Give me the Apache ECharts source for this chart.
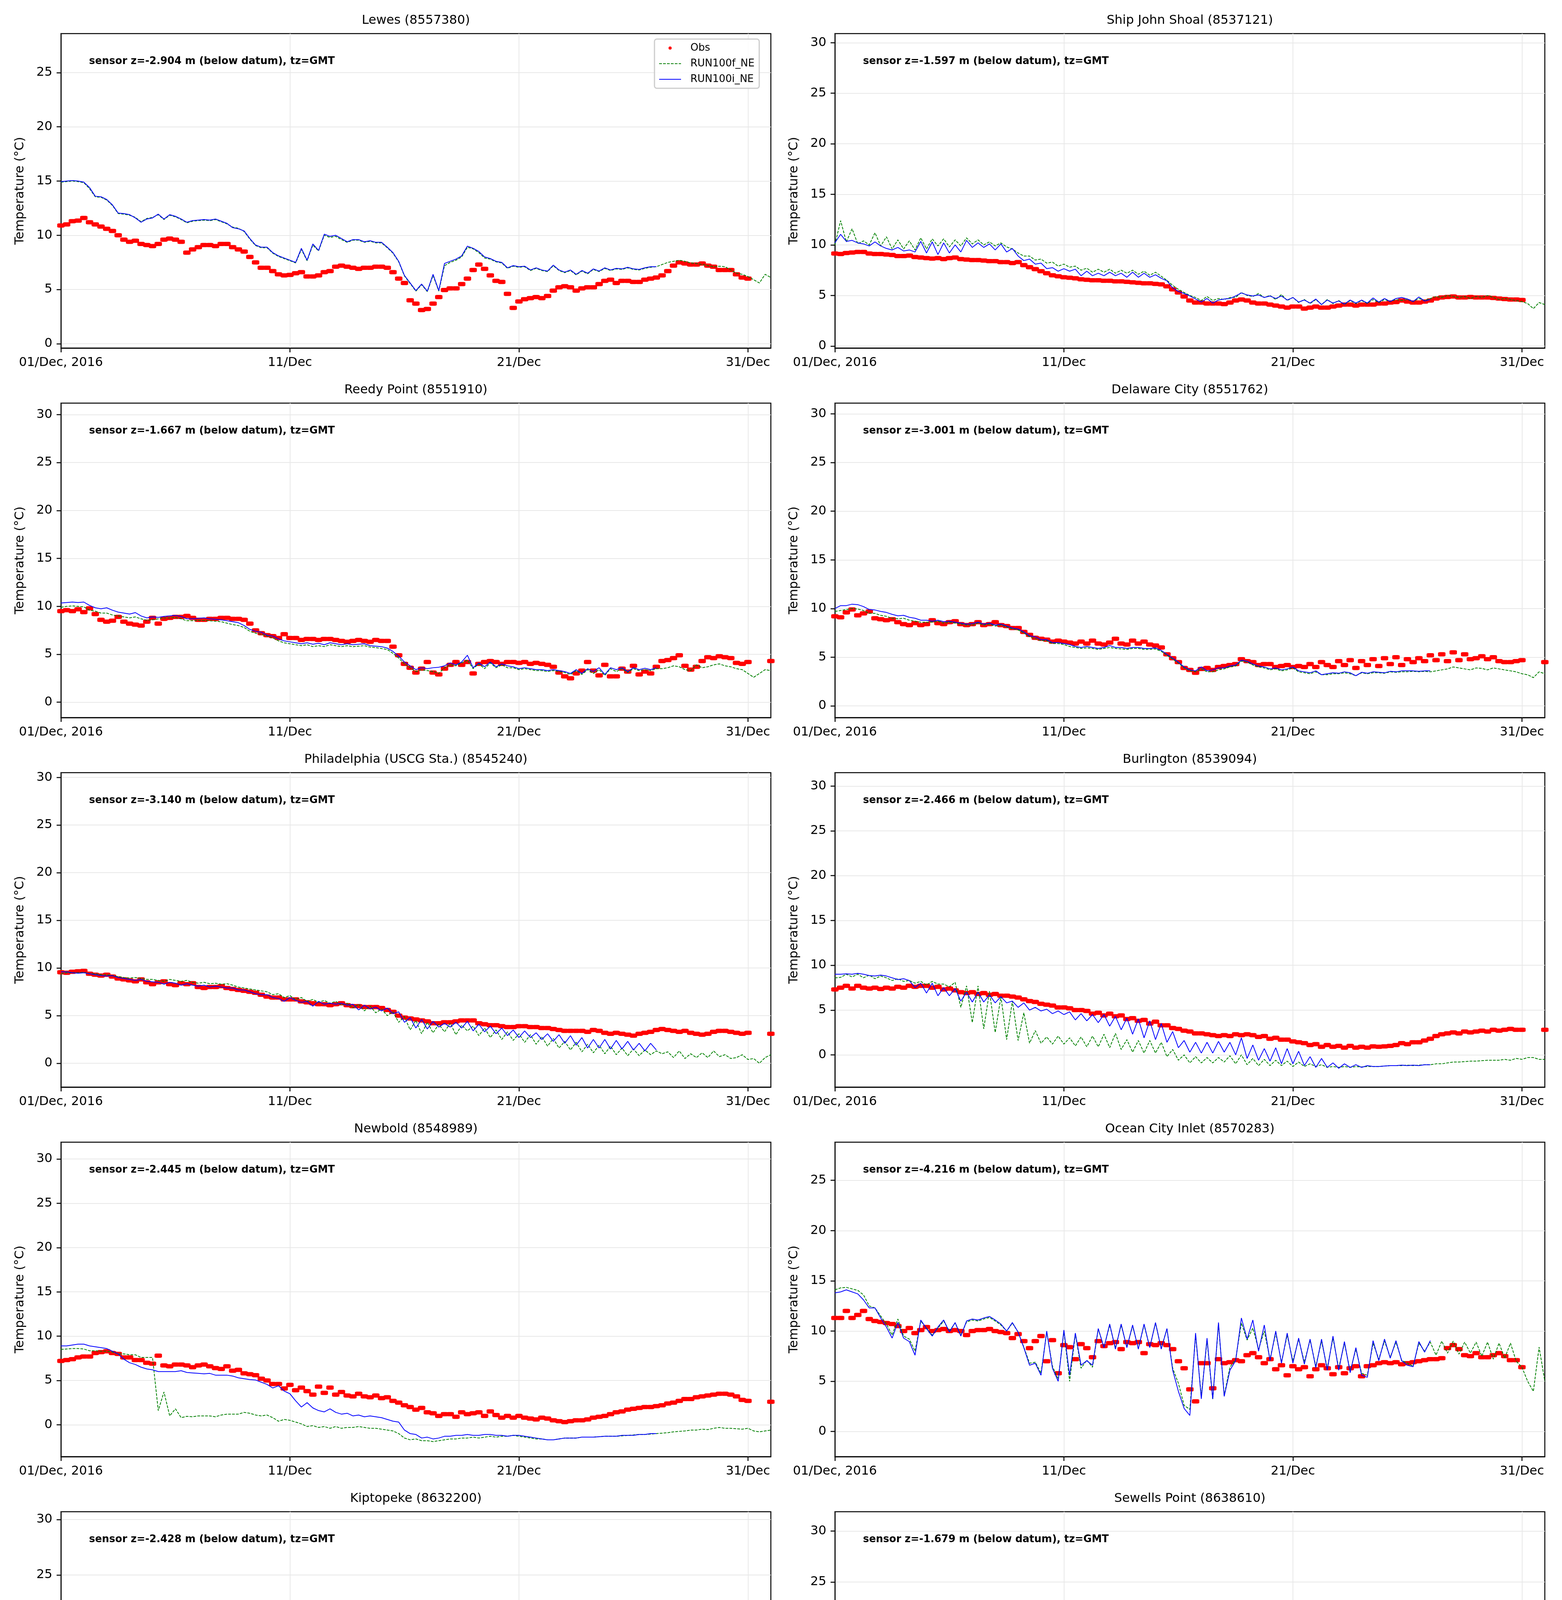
<!DOCTYPE html>
<html>
<head>
<meta charset="utf-8">
<title>Water temperature, Dec 2016</title>
<script src="https://cdn.jsdelivr.net/npm/echarts@6/dist/echarts.min.js"></script>
<style>
  html, body { margin: 0; padding: 0; background: #fff; }
  #chart { width: 4000px; height: 5000px; }
</style>
</head>
<body>
<div id="chart"></div>
<script>
// sample spacing of every series below: 6 hours, starting 01/Dec 00:00 (x is in days)
var STEP = 0.25;

var xTickDays = [0, 10, 20, 30];
var xTickLabels = ['01/Dec, 2016', '11/Dec', '21/Dec', '31/Dec'];
var ticks0to25 = [0, 5, 10, 15, 20, 25];
var ticks0to30 = [0, 5, 10, 15, 20, 25, 30];
var ticks5to30 = [5, 10, 15, 20, 25, 30];

var stationNames = ['Lewes (8557380)', 'Ship John Shoal (8537121)', 'Reedy Point (8551910)', 'Delaware City (8551762)',
    'Philadelphia (USCG Sta.) (8545240)', 'Burlington (8539094)', 'Newbold (8548989)', 'Ocean City Inlet (8570283)',
    'Kiptopeke (8632200)', 'Sewells Point (8638610)'];
var sensorDepths = ['-2.904', '-1.597', '-1.667', '-3.001', '-3.140', '-2.466', '-2.445', '-4.216', '-2.428', '-1.679'];
var yMins = [-0.4, -0.2, -1.6, -1.2, -2.5, -3.6, -3.6, -2.5, 2.4, 1.0];
var yMaxs = [28.6, 30.9, 31.2, 31.1, 30.5, 31.5, 31.9, 28.8, 30.7, 31.9];

// ---- Lewes
var lewesObs = [
    10.9, 11.0, 11.3, 11.35, 11.6, 11.2, 11.0, 10.8,
    10.6, 10.4, 10.0, 9.6, 9.4, 9.5, 9.2, 9.1,
    9.0, 9.2, 9.6, 9.7, 9.6, 9.4, 8.4, 8.7,
    8.9, 9.1, 9.1, 9.0, 9.2, 9.2, 8.9, 8.7,
    8.5, 8.0, 7.5, 7.0, 7.0, 6.7, 6.4, 6.3,
    6.35, 6.5, 6.6, 6.2, 6.2, 6.3, 6.6, 6.7,
    7.1, 7.2, 7.1, 7.0, 6.9, 7.0, 7.0, 7.1,
    7.1, 7.0, 6.6, 6.0, 5.6, 4.0, 3.7, 3.1,
    3.2, 3.7, 4.3, 4.95, 5.1, 5.1, 5.5, 6.0,
    6.8, 7.3, 6.9, 6.3, 5.8, 5.7, 4.6, 3.3,
    3.9, 4.1, 4.2, 4.3, 4.2, 4.4, 4.9, 5.2,
    5.3, 5.2, 4.9, 5.1, 5.2, 5.2, 5.5, 5.8,
    5.9, 5.6, 5.8, 5.8, 5.7, 5.7, 5.9, 6.0,
    6.1, 6.3, 6.7, 7.2, 7.5, 7.4, 7.3, 7.3,
    7.4, 7.2, 7.1, 6.8, 6.8, 6.8, 6.4, 6.1,
    6.0
];
var lewesRunF = [
    14.9, 14.95, 15.0, 14.95, 14.85, 14.3, 13.55, 13.5,
    13.25, 12.75, 12.0, 11.95, 11.85, 11.65, 11.25, 11.55,
    11.65, 11.9, 11.45, 11.85, 11.7, 11.45, 11.15, 11.3,
    11.35, 11.4, 11.35, 11.45, 11.25, 11.05, 10.75, 10.65,
    10.35, 9.65, 9.05, 8.85, 8.85, 8.35, 8.05, 7.85,
    7.65, 7.45, 8.7, 7.65, 9.1, 8.55, 10.0, 9.8,
    9.9, 9.6, 9.35, 9.55, 9.55, 9.35, 9.45, 9.3,
    9.3, 8.85, 8.35, 7.55, 6.25, 5.55, 4.85, 5.45,
    4.8, 6.3, 4.85, 7.2, 7.5, 7.7, 8.0, 8.9,
    8.75, 8.4, 7.9, 7.8, 7.55, 7.45, 6.95, 7.15,
    7.05, 7.1, 6.75, 6.95, 6.75, 6.65, 7.2, 6.75,
    6.55, 6.75, 6.35, 6.7, 6.45, 6.85, 6.65, 6.95,
    6.75, 6.9, 6.85, 7.0, 6.85, 6.8, 6.95, 7.05,
    7.1, 7.3, 7.5, 7.6, 7.7, 7.6, 7.45, 7.4,
    7.3, 7.2, 7.1, 7.15, 7.1, 6.8, 6.5, 6.4,
    6.2, 5.9, 5.6, 6.4, 6.1
];
var lewesRunI = [
    14.95, 15.0, 15.05, 15.0, 14.9, 14.4, 13.6, 13.55,
    13.3, 12.8, 12.05, 12.0, 11.9, 11.6, 11.2, 11.5,
    11.6, 11.95, 11.5, 11.9, 11.75, 11.5, 11.2, 11.35,
    11.4, 11.45, 11.4, 11.5, 11.3, 11.1, 10.7, 10.6,
    10.4, 9.7, 9.1, 8.9, 8.9, 8.4, 8.1, 7.9,
    7.7, 7.5, 8.8, 7.7, 9.2, 8.6, 10.1, 9.9,
    10.0, 9.7, 9.4, 9.6, 9.6, 9.4, 9.5, 9.35,
    9.35, 8.9, 8.4, 7.6, 6.3, 5.6, 4.9, 5.5,
    4.85, 6.4, 4.9, 7.4, 7.6, 7.8, 8.1, 9.0,
    8.8, 8.5, 8.0, 7.85, 7.6, 7.5, 7.0, 7.2,
    7.1, 7.15, 6.8, 7.0, 6.8, 6.7, 7.25, 6.8,
    6.6, 6.8, 6.4, 6.75, 6.5, 6.9, 6.7, 7.0,
    6.8, 6.95, 6.9, 7.05, 6.9, 6.85, 7.0, 7.1,
    7.1
];

// ---- Ship John Shoal
var shipJohnObs = [
    9.15, 9.1, 9.2, 9.25, 9.3, 9.3, 9.15, 9.1,
    9.1, 9.05, 9.0, 8.9, 8.9, 8.95, 8.8, 8.75,
    8.7, 8.65, 8.7, 8.6, 8.7, 8.75, 8.6, 8.55,
    8.5, 8.5, 8.45, 8.4, 8.4, 8.3, 8.3, 8.2,
    8.3, 8.0, 7.8, 7.6, 7.4, 7.2, 7.0, 6.9,
    6.8, 6.75, 6.7, 6.6, 6.55, 6.5, 6.5, 6.45,
    6.45, 6.4, 6.4, 6.35, 6.3, 6.25, 6.2, 6.2,
    6.15, 6.1, 5.9, 5.6, 5.3, 4.9, 4.5, 4.3,
    4.3, 4.2, 4.2, 4.2, 4.15, 4.3, 4.5, 4.6,
    4.5, 4.3, 4.2, 4.2, 4.1, 4.0, 3.9, 3.8,
    3.9, 3.9, 3.7, 3.8, 3.9, 3.8, 3.8, 3.9,
    4.0, 4.1, 4.1, 4.0, 4.1, 4.1, 4.1, 4.2,
    4.2, 4.3, 4.35, 4.5, 4.4, 4.3, 4.3, 4.4,
    4.5, 4.7, 4.8, 4.85, 4.9, 4.8, 4.8, 4.85,
    4.8, 4.8, 4.8, 4.75, 4.7, 4.65, 4.6, 4.6,
    4.55
];
var shipJohnRunF = [
    10.0, 12.4, 10.3, 11.6, 10.1, 10.4, 10.0, 11.2,
    9.9, 10.8, 9.6, 10.5, 9.6, 10.4, 9.5, 10.7,
    9.6, 10.6, 9.9, 10.6, 9.8, 10.5, 9.9, 10.7,
    10.1, 10.5, 10.0, 10.3, 9.9, 10.2, 9.8, 9.6,
    9.2, 8.9, 8.9, 8.5, 8.6, 8.2, 8.3, 7.9,
    8.1, 7.8, 7.9, 7.5, 7.7, 7.3, 7.6, 7.3,
    7.6, 7.2, 7.5, 7.2, 7.5, 7.1, 7.4, 7.0,
    7.3, 6.9, 6.5, 6.0, 5.6, 5.3, 5.0, 4.8,
    4.5, 4.9, 4.5, 4.7, 4.6, 4.8, 4.8, 5.3,
    5.0, 4.9, 5.2, 4.8, 5.0, 4.6, 5.1, 4.5,
    4.8, 4.3, 4.6, 4.2, 4.6, 4.1, 4.6, 4.2,
    4.5, 4.1, 4.5, 4.2, 4.5, 4.2, 4.6, 4.3,
    4.6, 4.4, 4.6, 4.5, 4.6, 4.4, 4.7, 4.5,
    4.7, 4.9, 4.8, 5.0, 4.9, 4.8, 4.9, 4.7,
    4.9, 4.8, 5.0, 4.8, 4.6, 4.7, 4.6, 4.5,
    4.4, 4.2, 3.7, 4.3, 4.1
];
var shipJohnRunI = [
    10.2, 11.05, 10.35, 10.45, 10.2, 10.1, 9.9, 10.3,
    9.9, 9.65, 9.5, 9.75, 9.4, 9.5, 9.3, 10.35,
    9.2, 10.3, 9.05, 10.2, 9.2, 10.0, 9.3, 10.45,
    9.75, 10.2, 9.75, 10.1, 9.5, 10.1, 9.3, 9.65,
    8.9, 8.45, 8.6, 8.1, 8.2, 7.65, 7.75, 7.4,
    7.65, 7.4, 7.6, 6.95, 7.4, 6.95, 7.2, 6.95,
    7.3, 6.95, 7.2, 6.8, 7.3, 6.8, 7.2, 6.8,
    7.05, 6.7, 6.45, 5.75, 5.4, 5.2, 4.95, 4.65,
    4.35, 4.7, 4.25, 4.55, 4.65, 4.7, 4.95, 5.25,
    5.05, 4.95, 5.05, 4.8, 4.95, 4.7, 4.95, 4.55,
    4.8, 4.35, 4.55, 4.25, 4.65, 4.1, 4.55, 4.25,
    4.45, 4.15, 4.55, 4.25, 4.55, 4.25, 4.75, 4.35,
    4.7, 4.4, 4.7, 4.8, 4.65, 4.4, 4.85, 4.45,
    4.6
];

// ---- Reedy Point
var reedyObs = [
    9.5, 9.6, 9.5, 9.7, 9.4, 9.8, 9.2, 8.6,
    8.4, 8.5, 8.9, 8.4, 8.2, 8.1, 8.0, 8.4,
    8.8, 8.2, 8.7, 8.8, 8.9, 8.9, 9.0, 8.8,
    8.6, 8.6, 8.7, 8.7, 8.8, 8.8, 8.7, 8.7,
    8.6, 8.2, 7.5, 7.2, 7.0, 6.9, 6.7, 7.1,
    6.7, 6.7, 6.5, 6.6, 6.6, 6.5, 6.6, 6.6,
    6.5, 6.4, 6.3, 6.4, 6.5, 6.4, 6.3, 6.5,
    6.4, 6.4, 5.8, 4.9, 4.0, 3.6, 3.1, 3.5,
    4.2, 3.1, 2.9, 3.5, 3.9, 4.2, 3.9, 4.2,
    3.0, 4.0, 4.2, 4.3, 4.2, 4.0, 4.2, 4.2,
    4.1, 4.2, 4.0, 4.1, 4.0, 3.9, 3.7, 3.1,
    2.7, 2.5, 3.0, 3.3, 4.2, 3.3, 2.8, 3.9,
    2.7, 2.7, 3.5, 3.2, 3.8, 2.9, 3.2, 3.0,
    3.7, 4.3, 4.4, 4.6, 4.9, 3.8, 3.4, 3.7,
    4.3, 4.7, 4.6, 4.8, 4.7, 4.6, 4.1, 4.0,
    4.2, null, null, null, 4.3
];
var reedyRunF = [
    9.9, 10.0, 10.05, 10.0, 9.95, 9.6, 9.5, 9.3,
    9.3, 9.1, 9.0, 8.9, 8.8, 8.9, 8.7, 8.55,
    8.6, 8.7, 8.8, 8.8, 8.85, 8.7, 8.5, 8.5,
    8.55, 8.55, 8.5, 8.45, 8.4, 8.25, 8.1, 8.0,
    7.8, 7.4, 7.2, 7.1, 6.9, 6.7, 6.4, 6.2,
    6.1, 6.0, 5.9, 6.0, 5.8, 5.9, 5.8, 6.0,
    5.9, 5.8, 5.9, 5.8, 5.85, 5.9, 5.75, 5.7,
    5.6, 5.5, 5.1, 4.6, 4.0, 3.6, 3.2, 3.4,
    3.3, 3.2, 3.0, 3.6, 3.9, 3.8, 4.1, 4.4,
    3.5, 4.0, 3.5, 4.1, 3.6, 3.9, 3.6, 3.6,
    3.4, 3.5, 3.4, 3.3, 3.3, 3.2, 3.3, 3.2,
    3.1, 2.9, 3.3, 2.9, 3.4, 3.0, 3.4, 2.8,
    3.5, 3.2, 3.5, 3.1, 3.5, 3.3, 3.4, 3.3,
    3.5, 3.5, 3.6, 3.8, 3.7, 3.4, 3.3, 3.9,
    3.6, 3.7, 3.9, 4.0, 3.8, 3.7, 3.5, 3.4,
    3.0, 2.6, 3.0, 3.4, 3.3
];
var reedyRunI = [
    10.35, 10.4, 10.45, 10.4, 10.45, 10.1, 9.85, 9.75,
    9.85, 9.6, 9.4, 9.3, 9.2, 9.35, 9.0, 8.8,
    8.9, 8.85, 8.95, 9.0, 9.05, 8.95, 8.7, 8.7,
    8.75, 8.8, 8.7, 8.65, 8.6, 8.5, 8.4, 8.3,
    8.0, 7.6, 7.4, 7.3, 7.0, 6.9, 6.6, 6.4,
    6.3, 6.2, 6.1, 6.2, 6.05, 6.15, 6.0, 6.2,
    6.1, 6.0, 6.1, 6.0, 6.05, 6.1, 5.9, 5.85,
    5.8, 5.65, 5.3, 4.8, 4.2, 3.8, 3.4, 3.6,
    3.5, 3.6, 3.65, 3.8, 4.1, 3.9, 4.2, 4.9,
    3.6, 4.1, 3.7, 4.2, 3.7, 4.0, 3.8, 3.7,
    3.5, 3.6, 3.5, 3.4, 3.4, 3.3, 3.4, 3.3,
    3.2, 3.0, 3.4, 3.0, 3.5, 3.2, 3.6, 2.9,
    3.6, 3.4, 3.6, 3.2, 3.6, 3.4, 3.55, 3.4,
    3.6
];

// ---- Delaware City
var delawareObs = [
    9.2, 9.1, 9.6, 9.9, 9.3, 9.5, 9.7, 9.0,
    8.9, 8.8, 8.9, 8.6, 8.4, 8.3, 8.5, 8.3,
    8.4, 8.8, 8.5, 8.4, 8.6, 8.7, 8.4, 8.3,
    8.4, 8.6, 8.3, 8.4, 8.6, 8.3, 8.2, 8.0,
    8.0, 7.6, 7.3, 7.0, 6.9, 6.8, 6.6, 6.7,
    6.6, 6.5, 6.4, 6.6, 6.4, 6.7, 6.4, 6.3,
    6.5, 6.9, 6.4, 6.3, 6.7, 6.4, 6.6, 6.3,
    6.2, 6.0, 5.3, 4.9, 4.5, 3.9, 3.7, 3.4,
    3.8, 3.9, 3.7, 4.0, 4.1, 4.2, 4.3, 4.8,
    4.6, 4.5, 4.2, 4.3, 4.3, 4.0, 4.1, 4.2,
    4.0, 4.1, 4.0, 4.3, 4.0, 4.5, 4.2, 4.0,
    4.6, 4.2, 4.7, 3.9, 4.6, 4.2, 4.8, 4.1,
    4.9, 4.3, 5.0, 4.2, 4.8, 4.5, 4.9, 4.6,
    5.2, 4.7, 5.3, 4.6, 5.5, 4.7, 5.3, 4.8,
    4.9, 5.1, 4.8, 5.0, 4.6, 4.5, 4.5, 4.6,
    4.7, null, null, null, 4.5
];
var delawareRunF = [
    9.7, 9.8, 9.9, 10.0, 9.95, 9.8, 9.5, 9.5,
    9.3, 9.2, 9.0, 8.95, 9.0, 8.8, 8.7, 8.6,
    8.6, 8.6, 8.7, 8.5, 8.6, 8.5, 8.4, 8.3,
    8.3, 8.5, 8.3, 8.4, 8.2, 8.3, 8.1, 7.9,
    7.8, 7.5, 7.1, 6.9, 6.7, 6.7, 6.4, 6.4,
    6.3, 6.1, 6.0, 5.9, 5.95, 5.9, 5.8, 5.9,
    6.0, 5.9, 5.85, 5.8, 5.9, 5.9, 5.8, 5.8,
    5.85, 5.6, 5.2, 4.8, 4.4, 3.9, 3.6, 3.5,
    3.8, 3.5, 3.5, 3.7, 3.8, 4.0, 4.1, 4.6,
    4.5, 4.2, 4.0, 3.9, 3.7, 3.8, 3.6, 3.7,
    3.9, 3.5, 3.4, 3.3, 3.5, 3.2, 3.2, 3.3,
    3.3, 3.4, 3.3, 3.1, 3.4, 3.3, 3.4, 3.4,
    3.35, 3.5, 3.45, 3.5, 3.5, 3.55, 3.5, 3.55,
    3.5, 3.6, 3.7, 3.8, 4.0, 3.9, 3.8, 3.7,
    3.9, 3.85, 3.7, 3.9, 3.8, 3.7, 3.6, 3.5,
    3.3, 3.2, 2.9, 3.5, 3.3
];
var delawareRunI = [
    10.0, 10.3, 10.3, 10.45, 10.4, 10.2, 9.9, 9.85,
    9.7, 9.6, 9.4, 9.25, 9.3, 9.1, 9.0, 8.8,
    8.8, 8.7, 8.8, 8.65, 8.7, 8.6, 8.5, 8.4,
    8.45, 8.6, 8.4, 8.5, 8.3, 8.4, 8.2, 8.0,
    7.9, 7.6, 7.2, 7.1, 6.8, 6.8, 6.5, 6.5,
    6.4, 6.3, 6.1, 6.0, 6.1, 6.0, 5.9, 6.0,
    6.2, 6.0, 6.0, 5.9, 6.0, 6.0, 5.9, 5.9,
    5.95, 5.7, 5.3, 4.9, 4.5, 4.0, 3.7, 3.6,
    4.0, 3.6, 3.7, 3.9, 3.9, 4.1, 4.2, 4.7,
    4.6, 4.3, 4.1, 4.0, 3.8, 3.9, 3.7, 3.8,
    4.0, 3.6, 3.5, 3.4, 3.6, 3.2, 3.3, 3.4,
    3.35, 3.5, 3.4, 3.1, 3.45, 3.35, 3.5, 3.45,
    3.4, 3.55, 3.5, 3.6, 3.6, 3.6, 3.55, 3.6,
    3.6
];

// ---- Philadelphia
var phillyObs = [
    9.55, 9.5, 9.6, 9.65, 9.7, 9.4, 9.3, 9.2,
    9.3, 9.1, 8.9, 8.8, 8.7, 8.6, 8.8, 8.5,
    8.3, 8.5, 8.6, 8.3, 8.2, 8.4, 8.3, 8.4,
    8.0, 7.9, 8.0, 8.0, 8.1, 7.9, 7.8, 7.7,
    7.6, 7.5, 7.4, 7.2, 7.0, 6.9, 6.9, 6.7,
    6.7, 6.7, 6.5, 6.4, 6.3, 6.2, 6.2, 6.1,
    6.2, 6.3, 6.1, 6.0, 6.0, 5.9, 5.9, 5.9,
    5.8, 5.6, 5.4, 5.0, 4.8, 4.7, 4.6, 4.5,
    4.4, 4.2, 4.2, 4.3, 4.3, 4.4, 4.5, 4.5,
    4.5, 4.2, 4.1, 4.0, 4.0, 3.9, 3.8, 3.8,
    3.9, 3.9, 3.8, 3.8, 3.7, 3.7, 3.6, 3.5,
    3.4, 3.4, 3.4, 3.4, 3.3, 3.5, 3.4, 3.2,
    3.1, 3.2, 3.1, 3.0, 2.9, 3.1, 3.2, 3.3,
    3.5, 3.6, 3.5, 3.4, 3.3, 3.4, 3.2, 3.1,
    3.0, 3.1, 3.3, 3.4, 3.4, 3.3, 3.2, 3.1,
    3.2, null, null, null, 3.1
];
var phillyRunF = [
    9.4, 9.5, 9.5, 9.5, 9.55, 9.4, 9.4, 9.3,
    9.3, 9.2, 9.1, 9.0, 8.95, 9.0, 8.9, 8.8,
    8.8, 8.7, 8.6, 8.8, 8.7, 8.6, 8.7, 8.5,
    8.4, 8.5, 8.35, 8.4, 8.3, 8.35, 8.2, 8.0,
    7.9, 7.8, 7.7, 7.6, 7.5, 7.2, 7.3, 6.9,
    7.1, 6.7, 6.9, 6.5, 6.7, 6.4, 6.6, 6.3,
    6.5, 6.1, 6.3, 5.8, 6.2, 5.5, 6.0, 5.3,
    5.7, 5.0, 5.4, 4.3, 4.9, 3.5, 4.5, 3.1,
    4.3, 3.2, 4.1, 3.3, 4.2, 3.0, 4.0, 3.4,
    3.9, 2.9, 3.7, 2.7, 3.5, 2.5, 3.3, 2.4,
    3.1, 2.2, 3.0, 2.0, 2.8, 1.8, 2.6, 1.6,
    2.3, 1.4, 2.2, 1.2, 2.0, 1.1, 1.9, 1.0,
    1.8, 0.9, 1.6, 0.8, 1.5, 0.8, 1.4, 0.9,
    1.3, 1.0, 1.2, 0.6, 1.3, 0.5, 1.0, 0.6,
    1.1, 0.6, 1.3, 0.7, 0.9, 0.5, 0.6, 0.9,
    0.4, 0.5, 0.0, 0.6, 0.9
];
var phillyRunI = [
    9.6, 9.6, 9.5, 9.45, 9.5, 9.4, 9.3, 9.2,
    9.15, 9.2, 9.0, 8.9, 8.8, 8.7, 8.8, 8.6,
    8.55, 8.5, 8.3, 8.5, 8.4, 8.2, 8.35, 8.2,
    8.1, 8.2, 8.0, 8.1, 8.0, 7.9, 7.9, 7.7,
    7.7, 7.5, 7.3, 7.2, 7.2, 6.9, 6.8, 6.5,
    6.9, 6.6, 6.4, 6.5, 6.0, 6.5, 6.2, 6.3,
    6.2, 6.3, 6.1, 6.2, 5.6, 6.1, 5.7, 5.9,
    5.5, 5.8, 5.2, 5.4, 4.3, 4.8, 3.7, 4.6,
    3.6, 4.4, 3.8, 4.2, 3.8, 4.3, 3.7, 4.4,
    3.4, 4.1, 3.3, 3.9, 3.1, 3.7, 2.9, 3.5,
    2.7, 3.4, 2.7, 3.2, 2.5, 3.1, 2.3, 3.0,
    2.1, 2.9, 1.9, 2.7, 1.6, 2.5, 1.6, 2.5,
    1.5, 2.4, 1.5, 2.3, 1.4, 2.1, 1.3, 2.1,
    1.4
];

// ---- Burlington
var burlingtonObs = [
    7.3, 7.5, 7.7, 7.4, 7.7, 7.5, 7.4, 7.5,
    7.35, 7.5, 7.4, 7.6, 7.5, 7.7, 7.6, 7.7,
    7.7, 7.5, 7.6, 7.3, 7.4, 7.2, 7.0, 6.9,
    7.0, 6.8, 6.9, 6.7, 6.8, 6.6, 6.6, 6.5,
    6.4, 6.2, 6.0, 5.9, 5.7, 5.6, 5.5, 5.3,
    5.3, 5.2, 5.0, 5.0, 4.9, 4.6, 4.7, 4.4,
    4.6, 4.3, 4.4, 4.0, 4.1, 3.8, 3.9, 3.5,
    3.7, 3.3, 3.3, 3.0, 2.9, 2.7, 2.6, 2.4,
    2.4, 2.3, 2.2, 2.1, 2.2, 2.1, 2.3, 2.2,
    2.3, 2.2, 2.0, 2.1, 1.8, 1.9, 1.7, 1.7,
    1.5, 1.4, 1.3, 1.1, 1.2, 0.9, 1.1, 0.9,
    1.0, 0.8, 1.0, 0.8, 0.9, 0.8, 0.95, 0.9,
    0.95, 1.0, 1.1, 1.3, 1.2, 1.4, 1.4, 1.6,
    1.8, 2.1, 2.3, 2.4, 2.5, 2.4, 2.6, 2.5,
    2.6, 2.7, 2.6, 2.8, 2.7, 2.8, 2.9, 2.8,
    2.8, null, null, null, 2.8
];
var burlingtonRunF = [
    8.6, 8.65, 9.0, 8.7, 9.0, 8.6, 8.9, 8.5,
    8.8, 8.6, 8.3, 8.5, 8.2, 8.3, 8.0, 8.2,
    7.8, 8.2, 7.9, 7.9, 7.6, 8.1, 5.3, 7.7,
    3.6, 7.7, 2.9, 7.1, 2.5, 6.5, 1.7, 6.0,
    1.6, 4.7, 1.3, 2.7, 1.3, 2.0, 1.2, 2.1,
    1.2, 1.9, 1.0, 2.0, 0.9, 2.1, 0.9, 2.3,
    0.8, 2.4, 0.6, 1.7, 0.3, 1.6, 0.2, 1.6,
    0.2, 1.4, -0.2, 0.6, -0.6, 0.0, -0.9, -0.2,
    -0.9, -0.3, -0.9, -0.3, -0.8, -0.1, -1.0, 0.0,
    -1.1, -0.4, -1.2, -0.5, -1.2, -0.6, -1.2, -0.7,
    -1.3, -0.8, -1.3, -1.0, -1.3, -1.1, -1.4, -1.3,
    -1.4, -1.3, -1.4, -1.3, -1.35, -1.3, -1.3, -1.3,
    -1.25, -1.2, -1.2, -1.2, -1.15, -1.2, -1.15, -1.1,
    -1.1, -1.0, -1.0, -0.9, -0.8, -0.8, -0.75, -0.7,
    -0.7, -0.65, -0.6, -0.6, -0.6, -0.5, -0.6, -0.4,
    -0.5, -0.3, -0.3, -0.5, -0.5
];
var burlingtonRunI = [
    9.0, 9.0, 9.05, 9.0, 9.1, 9.0, 8.85, 8.8,
    8.9, 8.8, 8.6, 8.4, 8.5, 8.3, 7.5, 8.0,
    6.9, 8.0, 6.6, 7.5, 6.6, 7.4, 6.0, 7.0,
    5.9, 7.0, 5.9, 6.7, 5.8, 6.5, 5.8, 6.0,
    5.3, 5.8, 5.0, 5.3, 4.9, 5.1, 4.6, 4.9,
    4.5, 4.8, 3.9, 4.6, 3.8, 4.5, 3.6, 4.5,
    3.2, 4.3, 2.8, 4.1, 2.3, 4.0, 1.9, 3.8,
    1.7, 3.5, 1.4, 2.6, 0.8, 1.6, 0.3, 1.4,
    0.2, 1.4, 0.2, 1.5, 0.3, 1.4, 0.0, 1.9,
    -0.4, 1.1, -0.6, 0.7, -0.7, 0.8, -1.0, 0.7,
    -1.0, 0.4, -1.2, -0.2, -1.4, -0.4, -1.4, -0.9,
    -1.5, -1.0, -1.4, -1.1, -1.4, -1.2, -1.3, -1.3,
    -1.25, -1.2, -1.2, -1.15, -1.2, -1.15, -1.2, -1.1,
    -1.1
];

// ---- Newbold
var newboldObs = [
    7.2, 7.3, 7.4, 7.6, 7.7, 7.7, 8.1, 8.2,
    8.3, 8.1, 8.0, 7.6, 7.6, 7.3, 7.3, 7.0,
    6.9, 7.8, 6.7, 6.6, 6.8, 6.8, 6.7, 6.5,
    6.7, 6.8, 6.6, 6.4, 6.3, 6.6, 6.1, 6.2,
    5.8, 5.7, 5.6, 5.2, 5.0, 4.6, 4.6, 4.1,
    4.5, 3.9, 4.2, 3.8, 3.4, 4.3, 3.6, 4.2,
    3.4, 3.7, 3.3, 3.2, 3.5, 3.2, 3.1, 3.3,
    3.0, 3.1, 2.7, 2.5, 2.2, 2.0, 1.7, 1.9,
    1.4, 1.3, 1.0, 1.2, 1.2, 0.9, 1.4, 1.2,
    1.3, 1.4, 1.0, 1.5, 1.1, 0.8, 1.0, 0.8,
    1.0, 0.8, 0.7, 0.6, 0.8, 0.7, 0.5, 0.4,
    0.3, 0.4, 0.5, 0.5, 0.6, 0.8, 0.9, 1.0,
    1.2, 1.4, 1.5, 1.7, 1.8, 1.9, 2.0, 2.0,
    2.1, 2.2, 2.4, 2.5, 2.7, 2.9, 2.9, 3.1,
    3.2, 3.3, 3.4, 3.5, 3.5, 3.4, 3.2, 2.8,
    2.7, null, null, null, 2.6
];
var newboldRunF = [
    8.5, 8.55, 8.6, 8.6, 8.55, 8.35, 8.35, 8.3,
    8.3, 8.2, 8.0, 8.0, 7.9, 7.9, 7.6, 7.6,
    7.6, 1.6, 3.7, 1.0, 1.8, 0.8, 0.95, 0.9,
    1.0, 1.0, 1.0, 0.9, 1.1, 1.2, 1.2, 1.2,
    1.4, 1.3, 1.1, 1.0, 1.1, 0.8, 0.4, 0.6,
    0.5, 0.3, 0.1, -0.2, -0.1, -0.3, -0.2, -0.4,
    -0.2, -0.4, -0.3, -0.3, -0.2, -0.3, -0.4, -0.4,
    -0.5, -0.6, -0.7, -1.0, -1.5, -1.7, -1.6, -1.8,
    -1.8, -1.9, -1.8, -1.7, -1.6, -1.6, -1.5, -1.5,
    -1.4, -1.5, -1.4, -1.3, -1.4, -1.3, -1.3, -1.2,
    -1.3, -1.4, -1.5, -1.6, -1.6, -1.7, -1.7, -1.6,
    -1.5, -1.5, -1.5, -1.4, -1.4, -1.4, -1.35, -1.3,
    -1.3, -1.3, -1.25, -1.2, -1.15, -1.1, -1.1, -1.05,
    -1.0, -0.95, -0.9, -0.8, -0.75, -0.7, -0.6, -0.6,
    -0.5, -0.55, -0.4, -0.3, -0.4, -0.4, -0.45, -0.5,
    -0.4, -0.7, -0.8, -0.7, -0.6
];
var newboldRunI = [
    8.9, 8.9, 9.0, 9.1, 9.1, 8.9, 8.8, 8.7,
    8.6, 8.3, 8.0, 7.4, 7.0, 6.8, 6.5, 6.3,
    6.2, 6.0, 6.0, 6.0, 6.0, 6.1, 5.9, 5.85,
    5.8, 5.75, 5.8, 5.6, 5.6, 5.6, 5.5, 5.3,
    5.2, 5.1, 5.05, 4.8, 4.55, 4.15, 4.4, 3.8,
    3.5, 2.7, 2.0, 2.5, 1.9, 1.6, 1.45, 1.8,
    1.4, 1.2, 1.3, 1.0, 1.1, 0.9, 1.0, 0.9,
    0.8, 0.6, 0.4, 0.3, -0.6, -1.0, -1.1, -1.5,
    -1.4, -1.6, -1.5, -1.3, -1.3, -1.2, -1.2, -1.1,
    -1.2, -1.2, -1.1, -1.1, -1.2, -1.2, -1.3, -1.2,
    -1.2, -1.3, -1.4, -1.5, -1.6, -1.7, -1.7, -1.6,
    -1.5, -1.5, -1.5, -1.4, -1.4, -1.4, -1.35, -1.3,
    -1.3, -1.3, -1.2, -1.2, -1.2, -1.1, -1.1, -1.0,
    -1.0
];

// ---- Ocean City Inlet
var oceanCityObs = [
    11.3, 11.3, 12.0, 11.3, 11.6, 12.0, 11.2, 11.0,
    10.9, 10.8, 10.7, 10.5, 10.0, 10.3, 9.8, 10.1,
    10.4, 10.0, 10.1, 10.2, 10.0, 10.1, 10.0, 9.6,
    10.0, 10.1, 10.1, 10.2, 10.0, 9.9, 9.8, 9.3,
    9.7, 9.0, 8.3, 9.0, 9.5, 7.0, 9.1, 5.8,
    8.6, 8.4, 7.2, 8.7, 8.3, 7.4, 9.0, 8.5,
    8.8, 8.9, 8.2, 8.9, 8.8, 8.9, 7.8, 8.7,
    8.6, 8.8, 8.6, 8.2, 7.0, 6.3, 4.2, 3.0,
    6.8, 6.8, 4.3, 7.2, 6.8, 6.9, 7.1, 7.0,
    7.6, 7.8, 7.4, 6.8, 7.2, 6.2, 6.6, 5.6,
    6.5, 6.2, 6.4, 5.5, 6.2, 6.6, 6.3, 5.7,
    6.4, 5.8, 6.3, 6.5, 5.5, 6.5, 6.6, 6.8,
    6.9, 6.8, 6.9, 6.7, 6.8, 6.9, 7.0, 7.1,
    7.2, 7.2, 7.3, 8.3, 8.6, 8.2, 7.6, 7.5,
    7.8, 7.4, 7.4, 7.6, 7.8, 7.5, 7.1, 7.1,
    6.4
];
var oceanCityRunF = [
    14.1, 14.3, 14.35, 14.2, 14.05, 13.6, 12.5, 12.3,
    11.5, 10.7, 9.6, 11.2, 9.5, 9.2, 8.0, 11.0,
    10.3, 9.6, 10.3, 11.0, 10.0, 10.8, 9.6, 10.9,
    11.1, 11.0, 11.2, 11.35, 11.0, 10.6, 10.0, 10.8,
    9.9, 8.4, 6.8, 6.9, 5.8, 9.9, 6.5, 5.2,
    10.0, 5.0, 9.7, 6.3, 7.1, 6.4, 10.2, 8.4,
    10.6, 8.3, 10.6, 8.4, 10.5, 8.3, 10.6, 8.4,
    10.8, 8.3, 10.2, 6.3, 4.8, 2.6, 2.2, 9.6,
    3.5, 9.1, 3.2, 10.7, 3.6, 6.4, 7.2, 10.8,
    9.1, 10.3, 8.2, 10.0, 7.2, 9.8, 6.9, 9.6,
    7.0, 9.2, 6.9, 9.1, 6.5, 9.0, 6.3, 9.3,
    6.3, 8.8, 6.0, 8.2, 5.8, 5.6, 8.8, 7.2,
    9.0, 7.4, 8.9, 7.1, 6.8, 6.5, 8.8, 8.0,
    8.9, 7.6, 9.0, 7.8, 9.0, 7.7, 8.9, 7.8,
    8.9, 7.5, 8.9, 7.2, 8.8, 7.3, 8.8, 7.0,
    6.4, 5.0, 4.0, 8.4, 5.0
];
var oceanCityRunI = [
    13.8, 13.9, 14.1, 13.9, 13.7, 13.1, 12.3, 12.3,
    11.3, 10.4, 9.3, 10.85, 9.3, 8.95, 7.6, 11.1,
    10.25, 9.5, 10.4, 11.1, 9.9, 10.85, 9.5, 11.0,
    11.2, 11.1, 11.3, 11.45, 11.1, 10.7, 10.0, 10.85,
    9.9, 8.35, 6.6, 6.8, 5.6, 10.0, 6.3, 5.0,
    10.1, 5.6, 9.8, 6.6, 7.05, 6.6, 10.25, 8.35,
    10.7, 8.2, 10.7, 8.35, 10.6, 8.2, 10.7, 8.35,
    10.85, 8.2, 10.25, 6.1, 4.0, 2.3, 1.6, 9.8,
    3.25, 9.3, 3.25, 10.85, 3.5, 6.1, 7.05, 11.3,
    9.2, 11.1, 8.0, 10.6, 7.05, 10.0, 6.8, 9.8,
    6.8, 9.3, 6.7, 9.2, 6.35, 9.2, 6.1, 9.5,
    6.1, 8.95, 5.85, 8.35, 5.6, 5.4, 9.05, 7.05,
    9.2, 7.3, 9.05, 7.05, 6.6, 6.45, 8.95, 7.9,
    9.05
];

// ---- Kiptopeke
var kiptopekeObs = [
    12.6, 12.5, 12.8, 12.4, 12.7, 12.8, 12.2, 12.3,
    11.9, 12.2, 12.2, 11.6, 10.8, 10.5, 10.8, 10.4,
    10.1, 10.1, 10.5, 10.6, 10.9, 11.1, 11.3, 11.0,
    10.8, 11.0, 10.9, 11.0, 10.9, 11.2, 10.8, 10.7,
    10.8, 10.9, 10.4, 9.8, 9.0, 9.5, 8.5, 7.8,
    8.4, 8.6, 8.8, 8.9, 8.2, 8.0, 8.4, 8.3,
    8.2, 8.9, 9.0, 8.8, 8.8, 9.0, 9.0, 8.9,
    8.8, 8.6, 8.7, 7.9, 6.8, 5.6, 4.8, 5.8,
    6.3, 6.4, 6.5, 6.8, 6.6, 7.0, 7.3, 7.9,
    7.6, 7.6, 7.4, 7.4, 7.2, 7.0, 6.8, 6.9,
    6.6, 6.4, 6.3, 6.2, 6.7, 6.5, 6.4, 6.6,
    7.1, 6.9, 6.7, 6.9, 7.0, 6.9, 6.9, 7.1,
    7.1, 7.1, 7.6, 7.4, 7.3, 7.3, 7.5, 7.5,
    7.5, 7.6, 7.6, 8.2, 7.9, 7.8, 8.0, 8.1,
    7.9, 7.6, 8.0, 8.6, 8.3, 7.8, 7.4, 7.3,
    7.0
];
var kiptopekeRunF = [
    16.2, 16.3, 16.5, 16.6, 16.0, 15.4, 15.9, 15.6,
    15.2, 14.3, 14.6, 14.1, 14.0, 13.9, 14.1, 13.9,
    13.7, 13.8, 14.4, 14.0, 14.1, 13.8, 14.1, 14.2,
    14.1, 13.8, 14.0, 13.8, 13.6, 13.4, 13.5, 13.1,
    12.4, 11.8, 11.4, 11.3, 10.4, 10.6, 10.6, 10.4,
    10.7, 10.3, 10.6, 10.6, 10.3, 10.2, 10.8, 11.4,
    11.2, 11.0, 11.1, 11.2, 11.2, 11.15, 11.2, 11.3,
    11.1, 10.9, 10.1, 9.4, 8.7, 8.2, 8.5, 8.8,
    8.8, 8.6, 8.7, 9.1, 9.25, 9.4, 10.0, 10.7,
    11.0, 10.7, 10.3, 10.0, 9.9, 9.7, 9.9, 10.0,
    10.0, 9.8, 9.1, 9.6, 9.5, 9.2, 9.1, 9.3,
    9.3, 9.3, 8.8, 9.1, 8.8, 9.0, 9.0, 9.1,
    9.2, 9.1, 9.1, 9.2, 9.0, 9.0, 9.1, 9.2,
    9.2, 9.0, 9.1, 9.3, 9.8, 9.6, 9.4, 9.3,
    9.2, 9.0, 8.9, 9.3, 9.4, 9.2, 8.5, 8.4,
    8.2, 7.8, 7.3, 7.7, 7.9
];
var kiptopekeRunI = [
    17.0, 17.1, 17.05, 17.15, 16.6, 15.8, 16.15, 15.9,
    15.7, 14.6, 14.9, 14.35, 14.2, 14.3, 14.4, 14.1,
    13.9, 14.0, 14.9, 14.3, 14.4, 14.2, 14.5, 14.5,
    14.4, 14.0, 14.3, 14.0, 13.8, 13.6, 13.7, 13.3,
    12.6, 12.0, 11.6, 11.4, 10.5, 10.7, 10.8, 10.6,
    10.9, 10.5, 10.8, 10.9, 10.6, 10.4, 11.0, 11.6,
    11.4, 11.15, 11.3, 11.4, 11.35, 11.3, 11.3, 11.4,
    11.2, 11.0, 10.2, 9.5, 8.8, 8.3, 8.6, 8.9,
    8.9, 8.7, 8.8, 9.2, 9.35, 9.5, 10.1, 10.8,
    11.1, 10.8, 10.4, 10.2, 10.1, 9.8, 10.0, 10.1,
    10.1, 9.9, 9.2, 9.7, 9.6, 9.3, 9.2, 9.4,
    9.4, 9.4, 8.9, 9.2, 8.9, 9.1, 9.1, 9.2,
    9.3, 9.2, 9.2, 9.3, 9.1, 9.1, 9.2, 9.3,
    9.3
];

// ---- Sewells Point
var sewellsObs = [
    12.4, 12.3, 12.6, 12.5, 12.7, 12.8, 12.6, 12.5,
    12.4, 12.5, 12.4, 12.3, 12.1, 11.7, 11.7, 11.6,
    11.5, 11.5, 11.3, 11.5, 11.4, 11.6, 11.4, 11.3,
    11.4, 11.5, 11.5, 11.4, 11.2, 11.0, 11.1, 10.9,
    11.2, 11.1, 11.0, 10.6, 10.2, 9.6, 9.2, 9.1,
    9.3, 9.0, 9.3, 9.4, 9.2, 9.1, 9.2, 9.3,
    9.3, 9.2, 9.4, 9.4, 9.3, 9.2, 9.3, 9.3,
    9.1, 9.0, 8.8, 8.4, 8.0, 7.9, 7.0, 7.7,
    7.4, 7.2, 7.2, 7.3, 7.3, 7.4, 7.4, 8.1,
    7.7, 7.9, 7.9, 7.6, 7.4, 7.5, 7.4, 7.1,
    6.9, 6.9, 7.0, 6.7, 6.8, 6.6, 7.0, 7.0,
    7.2, 7.2, 7.1, 7.2, 6.9, 7.1, 7.2, 7.3,
    7.3, 7.6, 7.5, 7.5, 7.6, 7.7, 7.7, 7.7,
    7.8, 8.0, 8.2, 8.3, 8.4, 8.6, 8.5, 8.4,
    8.5, 8.6, 8.5, 8.3, 8.1, 8.0, 8.0, 7.8,
    7.8, null, null, null, 7.5
];
var sewellsRunF = [
    16.1, 16.2, 16.1, 16.3, 16.2, 15.8, 15.1, 15.5,
    15.6, 15.0, 14.8, 14.2, 14.5, 13.6, 13.5, 13.7,
    13.9, 13.3, 13.2, 13.9, 13.7, 13.6, 13.8, 14.0,
    13.8, 13.6, 13.5, 13.3, 13.0, 12.8, 12.9, 12.6,
    12.2, 11.9, 11.6, 11.2, 10.8, 10.2, 10.4, 10.1,
    9.8, 10.0, 10.1, 10.1, 10.0, 10.2, 10.2, 10.1,
    10.2, 10.4, 10.5, 10.5, 10.4, 10.6, 10.6, 10.7,
    10.5, 10.3, 10.1, 10.0, 8.7, 8.5, 7.9, 7.7,
    7.5, 7.6, 7.9, 8.2, 8.3, 8.4, 8.6, 9.0,
    9.0, 8.9, 9.0, 9.2, 8.9, 8.7, 8.8, 8.5,
    8.7, 8.5, 8.2, 8.4, 8.0, 8.2, 8.4, 8.1,
    7.9, 8.2, 8.0, 7.9, 8.0, 7.8, 7.6, 7.8,
    7.9, 7.9, 8.0, 7.9, 7.8, 8.0, 7.8, 7.9,
    8.0, 8.3, 8.5, 8.5, 8.4, 8.5, 8.6, 8.6,
    8.5, 8.4, 8.5, 8.6, 8.4, 8.2, 8.0, 7.9,
    7.8, 7.4, 6.9, 7.1, 7.2
];
var sewellsRunI = [
    17.0, 17.3, 17.2, 17.15, 17.0, 16.6, 16.0, 16.3,
    16.1, 15.7, 15.4, 15.3, 15.15, 14.6, 14.2, 14.5,
    14.3, 13.8, 13.9, 14.6, 14.5, 14.2, 14.3, 14.6,
    14.4, 14.1, 14.0, 14.0, 13.8, 13.4, 13.5, 13.3,
    12.9, 12.5, 12.2, 11.7, 11.3, 10.8, 10.9, 10.4,
    10.0, 10.2, 10.3, 10.35, 10.3, 10.5, 10.5, 10.8,
    10.6, 10.7, 11.0, 10.9, 10.8, 10.9, 10.9, 11.0,
    10.8, 10.5, 10.4, 10.3, 8.9, 8.6, 8.0, 8.1,
    7.6, 7.7, 8.2, 8.5, 8.6, 8.7, 8.9, 9.3,
    9.3, 9.2, 9.4, 9.5, 9.1, 8.9, 9.0, 8.7,
    8.9, 8.7, 8.4, 8.6, 8.2, 8.4, 8.6, 8.3,
    8.1, 8.4, 8.2, 8.1, 8.2, 8.0, 7.8, 8.0,
    8.1, 8.1, 8.2, 8.1, 8.0, 8.2, 8.0, 8.1,
    8.3
];

var obsSeries = [lewesObs, shipJohnObs, reedyObs, delawareObs, phillyObs, burlingtonObs, newboldObs, oceanCityObs, kiptopekeObs, sewellsObs];
var runFSeries = [lewesRunF, shipJohnRunF, reedyRunF, delawareRunF, phillyRunF, burlingtonRunF, newboldRunF, oceanCityRunF, kiptopekeRunF, sewellsRunF];
var runISeries = [lewesRunI, shipJohnRunI, reedyRunI, delawareRunI, phillyRunI, burlingtonRunI, newboldRunI, oceanCityRunI, kiptopekeRunI, sewellsRunI];
var yTicks = [ticks0to25, ticks0to30, ticks0to30, ticks0to30, ticks0to30, ticks0to30, ticks0to30, ticks0to25, ticks5to30, ticks5to30];

function toPairs(values) {
    var out = [];
    for (var i = 0; i < values.length; i++) {
        if (values[i] !== null) out.push([i * STEP, values[i]]);
    }
    return out;
}

function buildOption() {
    var FONT = 'DejaVu Sans';
    var colLeft = [156, 2138];
    var rowTop = [86, 1032, 1978, 2924, 3870];
    var gridW = 1818, gridH = 805;
    var grids = [], xAxes = [], yAxes = [], series = [], graphics = [];

    for (var k = 0; k < stationNames.length; k++) {
        var gLeft = colLeft[k % 2];
        var gTop = rowTop[Math.floor(k / 2)];
        grids.push({
            left: gLeft, top: gTop, width: gridW, height: gridH,
            containLabel: false, outerBoundsMode: 'none',
            show: true, borderColor: '#000', borderWidth: 2.5
        });
        xAxes.push({
            gridIndex: k, type: 'value', min: 0, max: 31,
            axisLine: {show: true, onZero: false, lineStyle: {color: '#000', width: 2.5}},
            axisTick: {show: true, customValues: xTickDays.slice(), length: 11, lineStyle: {color: '#000', width: 2.5}},
            axisLabel: {
                customValues: xTickDays.slice(), fontSize: 32, color: '#000', margin: 22, fontFamily: FONT,
                formatter: function (v) { return xTickLabels[Math.round(v / 10)] || ''; }
            },
            splitLine: {show: true, lineStyle: {color: '#e8e8e8', width: 2}}
        });
        yAxes.push({
            gridIndex: k, type: 'value', min: yMins[k], max: yMaxs[k],
            name: 'Temperature (°C)', nameLocation: 'middle', nameGap: 88,
            nameTextStyle: {fontSize: 32, color: '#000', fontFamily: FONT},
            axisLine: {show: true, onZero: false, lineStyle: {color: '#000', width: 2.5}},
            axisTick: {show: true, customValues: yTicks[k].slice(), length: 11, lineStyle: {color: '#000', width: 2.5}},
            axisLabel: {customValues: yTicks[k].slice(), fontSize: 32, color: '#000', margin: 22, fontFamily: FONT},
            splitLine: {show: true, lineStyle: {color: '#e8e8e8', width: 2}}
        });
        series.push({
            name: 'Obs', type: 'scatter', xAxisIndex: k, yAxisIndex: k,
            data: toPairs(obsSeries[k]),
            symbol: 'roundRect', symbolSize: [19, 11],
            itemStyle: {color: '#ff0000', opacity: 1}, silent: true
        });
        series.push({
            name: 'RUN100f_NE', type: 'line', xAxisIndex: k, yAxisIndex: k,
            data: toPairs(runFSeries[k]), symbol: 'none',
            lineStyle: {color: '#008000', width: 2, type: [7, 3]},
            itemStyle: {color: '#008000', opacity: 0}, silent: true
        });
        series.push({
            name: 'RUN100i_NE', type: 'line', xAxisIndex: k, yAxisIndex: k,
            data: toPairs(runISeries[k]), symbol: 'none',
            lineStyle: {color: '#0000ff', width: 2},
            itemStyle: {color: '#0000ff', opacity: 0}, silent: true
        });
        // station title above the frame
        graphics.push({
            type: 'text', x: gLeft + gridW / 2, y: gTop - 33,
            style: {text: stationNames[k], fill: '#000', fontSize: 32, fontFamily: FONT, align: 'center', verticalAlign: 'middle'}
        });
        // sensor note inside the frame
        graphics.push({
            type: 'text', x: gLeft + 72, y: gTop + 71,
            style: {
                text: 'sensor z=' + sensorDepths[k] + ' m (below datum), tz=GMT',
                fill: '#000', fontSize: 26, fontWeight: 'bold', fontFamily: FONT, align: 'left', verticalAlign: 'middle'
            }
        });
    }
    graphics.push({
        type: 'text', x: 2006, y: 4944,
        style: {text: 'Time', fill: '#000', fontSize: 38, fontFamily: FONT, align: 'center', verticalAlign: 'middle'}
    });

    return {
        animation: false,
        backgroundColor: '#fff',
        textStyle: {fontFamily: FONT},
        grid: grids,
        xAxis: xAxes,
        yAxis: yAxes,
        legend: {
            show: true, orient: 'vertical', left: 1676, top: 100,
            data: [{name: 'Obs', icon: 'circle'}, {name: 'RUN100f_NE', itemStyle: {opacity: 0}}, {name: 'RUN100i_NE', itemStyle: {opacity: 0}}],
            itemWidth: 56, itemHeight: 8, itemGap: 14,
            textStyle: {fontSize: 26, color: '#000', fontFamily: FONT, padding: [0, 0, 0, 19]},
            backgroundColor: 'rgba(255,255,255,0.8)',
            borderColor: '#cccccc', borderWidth: 3, borderRadius: 6,
            padding: [10, 12, 10, 11],
            selectedMode: false
        },
        graphic: graphics,
        series: series
    };
}

var chart = echarts.init(document.getElementById('chart'));
chart.setOption(buildOption());
</script>
</body>
</html>
